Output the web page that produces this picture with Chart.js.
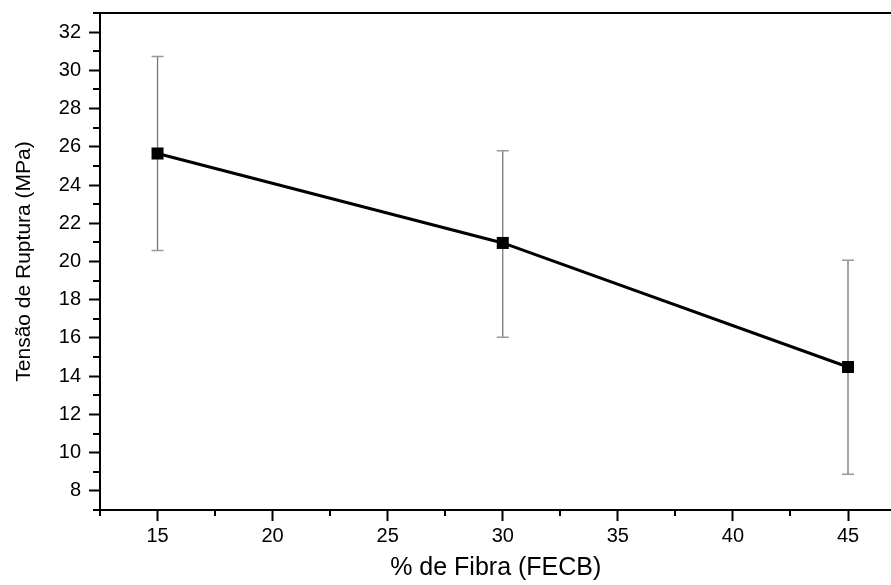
<!DOCTYPE html>
<html>
<head>
<meta charset="utf-8">
<script src="https://cdn.jsdelivr.net/npm/chart.js@4/dist/chart.umd.min.js"></script>
<style>
  html, body { margin: 0; padding: 0; background: #fff; overflow: hidden; }
  #wrap { width: 891px; height: 585px; overflow: hidden; position: relative; }
  #c { position: absolute; left: 0; top: 0; }
</style>
</head>
<body>
<div id="wrap"><canvas id="c" width="900" height="585"></canvas></div>
<script>
// ---- data ----
const fiberPercent = [15, 30, 45];
const ruptureStress = [25.65, 20.97, 14.48];
const errUpper = [30.72, 25.80, 20.07];
const errLower = [20.57, 16.04, 8.87];
const xMajorTicks = [15, 20, 25, 30, 35, 40, 45];
const xMinorTicks = [12.5, 17.5, 22.5, 27.5, 32.5, 37.5, 42.5];
const yMajorTicks = [8, 10, 12, 14, 16, 18, 20, 22, 24, 26, 28, 30, 32];
const yMinorTicks = [7, 9, 11, 13, 15, 17, 19, 21, 23, 25, 27, 29, 31, 33];
const xTitle = '% de Fibra (FECB)';
const yTitle = 'Tensão de Ruptura (MPa)';

const FONT = '"Liberation Sans", Arial, Helvetica, sans-serif';

const frameAndExtras = {
  id: 'frameAndExtras',
  beforeDatasetsDraw(chart) {
    const {ctx, scales: {x, y}} = chart;
    ctx.save();
    for (let i = 0; i < fiberPercent.length; i++) {
      const px = x.getPixelForValue(fiberPercent[i]);
      const top = y.getPixelForValue(errUpper[i]);
      const bot = y.getPixelForValue(errLower[i]);
      ctx.strokeStyle = '#777';
      ctx.lineWidth = 1.3;
      ctx.beginPath();
      ctx.moveTo(px, top); ctx.lineTo(px, bot);
      ctx.stroke();
      ctx.strokeStyle = '#999';
      ctx.lineWidth = 1.5;
      ctx.beginPath();
      ctx.moveTo(px - 6, top); ctx.lineTo(px + 6, top);
      ctx.moveTo(px - 6, bot); ctx.lineTo(px + 6, bot);
      ctx.stroke();
    }
    ctx.restore();
  },
  afterDraw(chart) {
    const {ctx, chartArea: a, scales: {x, y}} = chart;
    ctx.save();
    ctx.strokeStyle = '#000';
    ctx.lineWidth = 2;
    ctx.beginPath();
    ctx.moveTo(a.left, a.top); ctx.lineTo(a.right, a.top);
    ctx.stroke();
    ctx.beginPath();
    xMinorTicks.forEach(v => {
      const px = Math.round(x.getPixelForValue(v));
      ctx.moveTo(px, a.bottom); ctx.lineTo(px, a.bottom + 6);
    });
    yMinorTicks.forEach(v => {
      const py = Math.round(y.getPixelForValue(v));
      ctx.moveTo(a.left, py); ctx.lineTo(a.left - 7, py);
    });
    ctx.stroke();
    ctx.restore();
  }
};

function zeroPad(s) {
  s.paddingLeft = 0; s.paddingRight = 0; s.paddingTop = 0; s.paddingBottom = 0;
}

new Chart(document.getElementById('c'), {
  type: 'line',
  data: {
    datasets: [{
      data: fiberPercent.map((v, i) => ({x: v, y: ruptureStress[i]})),
      borderColor: '#000',
      backgroundColor: '#000',
      borderWidth: 3,
      tension: 0,
      pointStyle: 'rect',
      pointRadius: 8.5,
      pointHoverRadius: 8.5,
      pointBorderWidth: 0,
      pointBackgroundColor: '#000',
      clip: false
    }]
  },
  options: {
    responsive: false,
    animation: false,
    events: [],
    layout: { padding: { top: 13, right: 0, left: 0, bottom: 0 } },
    plugins: { legend: { display: false }, tooltip: { enabled: false } },
    scales: {
      x: {
        type: 'linear',
        min: 12.5,
        max: 46.89,
        afterBuildTicks: s => { s.ticks = xMajorTicks.map(v => ({value: v})); },
        afterFit: s => { s.height = 75; zeroPad(s); },
        grid: { display: true, drawOnChartArea: false, drawTicks: true, tickLength: 11, tickWidth: 2, tickColor: '#000' },
        border: { display: true, color: '#000', width: 2 },
        ticks: { color: '#000', font: { family: FONT, size: 20 }, padding: 3, maxRotation: 0 },
        title: { display: true, text: xTitle, color: '#000', font: { family: FONT, size: 25 }, padding: { top: 0, bottom: 2 } }
      },
      y: {
        type: 'linear',
        min: 7,
        max: 33,
        afterBuildTicks: s => { s.ticks = yMajorTicks.map(v => ({value: v})); },
        afterFit: s => { s.width = 100; zeroPad(s); },
        grid: { display: true, drawOnChartArea: false, drawTicks: true, tickLength: 11, tickWidth: 2, tickColor: '#000' },
        border: { display: true, color: '#000', width: 2 },
        ticks: { color: '#000', font: { family: FONT, size: 20 }, padding: 8 },
        title: { display: true, text: yTitle, color: '#000', font: { family: FONT, size: 21 }, padding: { top: 12, bottom: 0 } }
      }
    }
  },
  plugins: [frameAndExtras]
});
</script>
</body>
</html>
